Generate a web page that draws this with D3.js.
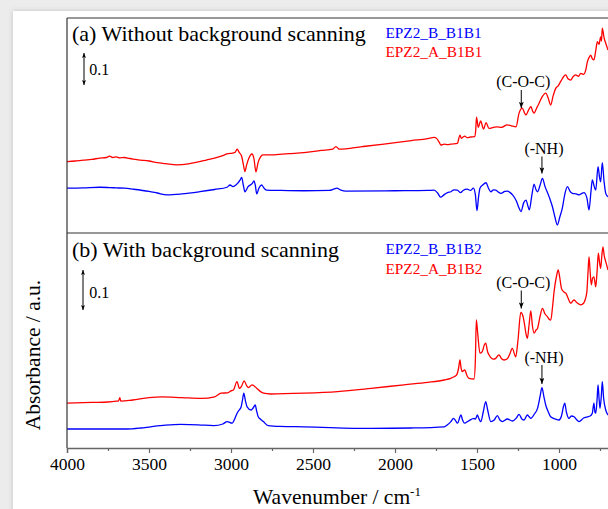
<!DOCTYPE html>
<html>
<head>
<meta charset="utf-8">
<script src="https://cdn.jsdelivr.net/npm/d3@7"></script>
<style>
  html, body { margin: 0; padding: 0; background: #ececec; }
  svg { display: block; }
  text { font-family: "Liberation Serif", "Times New Roman", serif; fill: #000; }
</style>
</head>
<body>
<svg id="chart" width="608" height="509"></svg>
<script>
// FTIR spectra, [wavenumber (cm-1), absorbance offset]
const epz2B_B1B1 = [[4000,0.140],[3900,0.141],[3800,0.143],[3740,0.142],[3700,0.141],[3650,0.140],[3598,0.137],[3500,0.130],[3450,0.125],[3390,0.119],[3300,0.122],[3190,0.129],[3100,0.136],[3024,0.143],[3006,0.150],[2988,0.145],[2960,0.155],[2945,0.165],[2935,0.174],[2925,0.150],[2915,0.129],[2896,0.145],[2870,0.155],[2860,0.163],[2852,0.150],[2843,0.122],[2830,0.140],[2814,0.150],[2798,0.140],[2783,0.134],[2700,0.133],[2555,0.132],[2400,0.133],[2370,0.138],[2355,0.140],[2330,0.134],[2300,0.131],[2000,0.132],[1800,0.133],[1762,0.134],[1740,0.125],[1722,0.112],[1700,0.120],[1680,0.126],[1659,0.129],[1640,0.135],[1620,0.134],[1600,0.126],[1585,0.133],[1560,0.137],[1540,0.133],[1522,0.140],[1510,0.120],[1500,0.070],[1490,0.115],[1482,0.140],[1465,0.150],[1445,0.157],[1430,0.140],[1415,0.129],[1400,0.135],[1385,0.134],[1370,0.128],[1354,0.124],[1330,0.130],[1313,0.131],[1300,0.127],[1283,0.119],[1260,0.100],[1245,0.080],[1232,0.067],[1215,0.095],[1201,0.103],[1190,0.085],[1181,0.072],[1165,0.120],[1152,0.153],[1140,0.135],[1131,0.129],[1115,0.150],[1101,0.171],[1085,0.145],[1060,0.113],[1040,0.082],[1025,0.050],[1010,0.025],[995,0.050],[980,0.077],[965,0.120],[949,0.145],[930,0.128],[918,0.124],[895,0.122],[878,0.119],[860,0.124],[848,0.126],[830,0.110],[817,0.072],[805,0.130],[797,0.166],[785,0.145],[776,0.134],[762,0.207],[753,0.175],[746,0.160],[736,0.220],[725,0.160],[715,0.124],[701,0.113]];

const epz2A_B1B1 = [[4000,0.223],[3950,0.225],[3900,0.228],[3850,0.230],[3800,0.234],[3760,0.236],[3740,0.240],[3720,0.236],[3700,0.238],[3680,0.235],[3650,0.236],[3620,0.233],[3598,0.231],[3550,0.228],[3500,0.225],[3450,0.220],[3400,0.217],[3330,0.213],[3260,0.216],[3200,0.222],[3150,0.228],[3100,0.234],[3050,0.242],[3024,0.247],[2990,0.250],[2975,0.252],[2963,0.262],[2950,0.252],[2935,0.240],[2925,0.215],[2915,0.192],[2905,0.212],[2890,0.235],[2872,0.247],[2860,0.232],[2848,0.191],[2835,0.220],[2820,0.238],[2805,0.244],[2750,0.244],[2650,0.248],[2555,0.251],[2450,0.258],[2380,0.262],[2360,0.270],[2340,0.262],[2200,0.270],[2067,0.278],[1900,0.289],[1800,0.295],[1762,0.299],[1745,0.295],[1730,0.283],[1720,0.275],[1700,0.278],[1680,0.276],[1659,0.278],[1620,0.280],[1604,0.306],[1595,0.296],[1585,0.300],[1575,0.303],[1560,0.298],[1540,0.300],[1515,0.301],[1508,0.320],[1503,0.362],[1492,0.330],[1478,0.350],[1460,0.325],[1445,0.345],[1427,0.327],[1400,0.330],[1378,0.332],[1350,0.330],[1317,0.338],[1290,0.335],[1262,0.332],[1244,0.374],[1224,0.390],[1210,0.375],[1201,0.369],[1185,0.385],[1171,0.395],[1160,0.380],[1152,0.375],[1135,0.392],[1122,0.405],[1102,0.426],[1081,0.437],[1065,0.420],[1051,0.400],[1035,0.430],[1020,0.452],[1005,0.460],[990,0.473],[970,0.490],[959,0.494],[945,0.482],[929,0.478],[915,0.488],[899,0.494],[880,0.490],[868,0.499],[850,0.496],[837,0.509],[827,0.535],[815,0.550],[807,0.556],[797,0.545],[787,0.541],[776,0.570],[766,0.598],[756,0.590],[746,0.613],[741,0.600],[736,0.640],[725,0.610],[715,0.593],[701,0.572]];

const epz2B_B1B2 = [[4000,0.0475],[3800,0.0475],[3635,0.0475],[3550,0.050],[3490,0.053],[3400,0.057],[3307,0.059],[3200,0.058],[3105,0.056],[3050,0.060],[3024,0.066],[2993,0.062],[2975,0.075],[2963,0.087],[2950,0.095],[2938,0.103],[2930,0.120],[2922,0.137],[2912,0.118],[2902,0.103],[2877,0.095],[2865,0.100],[2852,0.1075],[2845,0.095],[2834,0.078],[2820,0.072],[2803,0.066],[2773,0.056],[2700,0.054],[2555,0.053],[2146,0.049],[1900,0.050],[1700,0.053],[1680,0.058],[1659,0.066],[1643,0.074],[1630,0.068],[1619,0.062],[1598,0.0825],[1588,0.070],[1577,0.062],[1550,0.068],[1518,0.074],[1510,0.072],[1498,0.0825],[1490,0.075],[1477,0.066],[1462,0.090],[1447,0.116],[1435,0.095],[1416,0.066],[1395,0.070],[1376,0.081],[1360,0.070],[1345,0.066],[1315,0.0725],[1284,0.0675],[1260,0.075],[1244,0.084],[1225,0.072],[1213,0.070],[1193,0.0825],[1182,0.078],[1172,0.074],[1150,0.085],[1131,0.099],[1115,0.130],[1104,0.151],[1092,0.128],[1081,0.1075],[1065,0.090],[1051,0.078],[1020,0.072],[1000,0.070],[985,0.080],[972,0.105],[965,0.112],[955,0.090],[939,0.074],[925,0.080],[908,0.078],[895,0.072],[878,0.066],[850,0.075],[827,0.078],[810,0.080],[797,0.087],[787,0.112],[781,0.090],[776,0.087],[768,0.120],[762,0.1575],[755,0.120],[750,0.099],[742,0.130],[736,0.166],[728,0.125],[715,0.095],[701,0.0825]];

const epz2A_B1B2 = [[4000,0.112],[3850,0.114],[3750,0.115],[3700,0.117],[3685,0.118],[3678,0.126],[3672,0.117],[3600,0.120],[3500,0.126],[3420,0.128],[3300,0.126],[3180,0.124],[3100,0.128],[3060,0.137],[3020,0.138],[3000,0.143],[2985,0.145],[2964,0.166],[2948,0.149],[2935,0.155],[2920,0.168],[2905,0.156],[2893,0.151],[2872,0.158],[2842,0.149],[2820,0.141],[2801,0.137],[2760,0.135],[2555,0.137],[2350,0.141],[2146,0.149],[1945,0.158],[1800,0.164],[1700,0.170],[1660,0.174],[1640,0.178],[1625,0.182],[1612,0.200],[1604,0.220],[1597,0.200],[1590,0.191],[1575,0.195],[1560,0.180],[1549,0.174],[1518,0.1725],[1510,0.220],[1504,0.320],[1495,0.283],[1482,0.237],[1468,0.241],[1455,0.258],[1447,0.262],[1435,0.240],[1427,0.233],[1400,0.222],[1386,0.224],[1366,0.233],[1350,0.223],[1335,0.220],[1315,0.223],[1300,0.235],[1285,0.249],[1264,0.228],[1250,0.270],[1233,0.339],[1220,0.330],[1213,0.316],[1200,0.283],[1193,0.274],[1182,0.310],[1172,0.343],[1162,0.305],[1152,0.287],[1140,0.295],[1131,0.299],[1115,0.330],[1101,0.349],[1085,0.335],[1070,0.328],[1060,0.322],[1050,0.320],[1040,0.350],[1030,0.391],[1015,0.430],[1005,0.445],[995,0.425],[985,0.399],[970,0.390],[958,0.387],[945,0.375],[928,0.362],[915,0.368],[908,0.370],[890,0.363],[867,0.358],[850,0.362],[841,0.370],[830,0.391],[823,0.440],[817,0.478],[810,0.440],[803,0.408],[795,0.425],[787,0.428],[776,0.403],[768,0.440],[760,0.487],[753,0.465],[746,0.449],[739,0.480],[732,0.503],[724,0.480],[715,0.466],[701,0.445]];

const xTickValues = [4000, 3500, 3000, 2500, 2000, 1500, 1000];
const xMinorValues = [3750, 3250, 2750, 2250, 1750, 1250, 750];

const panelTitles = ["(a) Without background scanning", "(b) With background scanning"];
const legendLabels = [["EPZ2_B_B1B1", "EPZ2_A_B1B1"], ["EPZ2_B_B1B2", "EPZ2_A_B1B2"]];
const bandLabels = ["(C-O-C)", "(-NH)"];
const bandPositions = [1230, 1104];
const scaleBarValue = 0.1;

const colors = { B: "#0000ff", A: "#ff0000" };

const svg = d3.select("#chart");

// page background and white sheet with a soft edge shadow
const defs = svg.append("defs");
const shadow = defs.append("filter").attr("id", "sheetShadow")
  .attr("x", "-5%").attr("y", "-5%").attr("width", "110%").attr("height", "110%");
shadow.append("feDropShadow").attr("dx", 0).attr("dy", 0)
  .attr("stdDeviation", 2.5).attr("flood-color", "#000").attr("flood-opacity", 0.18);

svg.append("rect").attr("width", 608).attr("height", 509).attr("fill", "#ececec");
svg.append("rect").attr("x", 13).attr("y", 11).attr("width", 640).attr("height", 520)
  .attr("fill", "#fff").attr("filter", "url(#sheetShadow)");

// arrow heads (drawn along +x, oriented by the line direction)
function arrowMarker(id, len, wid) {
  defs.append("marker").attr("id", id)
    .attr("viewBox", "0 0 10 8").attr("refX", 10).attr("refY", 4)
    .attr("markerWidth", len).attr("markerHeight", wid).attr("markerUnits", "userSpaceOnUse")
    .attr("orient", "auto-start-reverse")
    .append("path").attr("d", "M0,0 L10,4 L0,8 L2.5,4 Z").attr("fill", "#000");
}
arrowMarker("headDown", 7, 5);
arrowMarker("headSmall", 5.5, 4);

const plotLeft = 67, plotTop = 18, plotMid = 233, plotBottom = 448;

const x = d3.scaleLinear().domain([4000, 400]).range([plotLeft, plotLeft + 3600 * 0.164]);

const panels = [
  { y: d3.scaleLinear().domain([0, 0.672]).range([plotMid, plotTop]), series: [epz2B_B1B1, epz2A_B1B1],
    y0: plotTop, y1: plotMid, title: panelTitles[0], legend: legendLabels[0],
    titleY: 41, legendY: [38.3, 57.3], barX: 84, barTop: 53, labelY: [87.3, 154], arrowY: [[90, 108], [156.5, 173.5]] },
  { y: d3.scaleLinear().domain([0, 0.5375]).range([plotBottom, plotMid]), series: [epz2B_B1B2, epz2A_B1B2],
    y0: plotMid, y1: plotBottom, title: panelTitles[1], legend: legendLabels[1],
    titleY: 256.5, legendY: [254.3, 274.3], barX: 83, barTop: 270, labelY: [288.3, 363.3], arrowY: [[290.5, 308.5], [365, 384]] }
];

const line = (yScale) => d3.line()
  .x(d => x(d[0])).y(d => yScale(d[1]))
  .curve(d3.curveMonotoneX);

panels.forEach((p, i) => {
  const clipId = "clip" + i;
  defs.append("clipPath").attr("id", clipId)
    .append("rect").attr("x", plotLeft).attr("y", p.y0).attr("width", 700).attr("height", p.y1 - p.y0);

  const g = svg.append("g").attr("clip-path", `url(#${clipId})`);
  g.append("path").datum(p.series[0]).attr("d", line(p.y))
    .attr("fill", "none").attr("stroke", colors.B).attr("stroke-width", 1.3).attr("stroke-linejoin", "round");
  g.append("path").datum(p.series[1]).attr("d", line(p.y))
    .attr("fill", "none").attr("stroke", colors.A).attr("stroke-width", 1.3).attr("stroke-linejoin", "round");

  // panel title
  svg.append("text").attr("x", 72).attr("y", p.titleY)
    .attr("font-size", "22px").text(p.title);

  // legend
  svg.append("text").attr("x", 385.5).attr("y", p.legendY[0])
    .attr("font-size", "15.3px").style("fill", colors.B).text(p.legend[0]);
  svg.append("text").attr("x", 385.5).attr("y", p.legendY[1])
    .attr("font-size", "15.3px").style("fill", colors.A).text(p.legend[1]);

  // 0.1 absorbance scale bar
  const barLen = p.y(0) - p.y(scaleBarValue);
  svg.append("line").attr("x1", p.barX).attr("x2", p.barX)
    .attr("y1", p.barTop).attr("y2", p.barTop + barLen)
    .attr("stroke", "#000").attr("stroke-width", 1)
    .attr("marker-start", "url(#headSmall)").attr("marker-end", "url(#headSmall)");
  svg.append("text").attr("x", 89.3).attr("y", p.barTop + barLen * 0.7)
    .attr("font-size", "16px").text(scaleBarValue);

  // band assignments
  bandLabels.forEach((lab, j) => {
    const bx = x(bandPositions[j]);
    svg.append("text").attr("x", bx + 2).attr("y", p.labelY[j])
      .attr("text-anchor", "middle").attr("font-size", "16px").text(lab);
    svg.append("line").attr("x1", bx).attr("x2", bx)
      .attr("y1", p.arrowY[j][0]).attr("y2", p.arrowY[j][1])
      .attr("stroke", "#000").attr("stroke-width", 1)
      .attr("marker-end", "url(#headDown)");
  });
});

// frame: left edge, top edge and panel divider
svg.append("line").attr("x1", plotLeft).attr("x2", 620).attr("y1", plotTop).attr("y2", plotTop)
  .attr("stroke", "#333").attr("stroke-width", 1.2);
svg.append("line").attr("x1", plotLeft).attr("x2", 620).attr("y1", plotMid).attr("y2", plotMid)
  .attr("stroke", "#333").attr("stroke-width", 1.2);
svg.append("line").attr("x1", plotLeft).attr("x2", plotLeft).attr("y1", plotTop).attr("y2", plotBottom)
  .attr("stroke", "#333").attr("stroke-width", 1.2);

// bottom wavenumber axis
const xAxis = d3.axisBottom(x).tickValues(xTickValues).tickSize(5).tickPadding(4)
  .tickFormat(d3.format("d"));
const axG = svg.append("g").attr("transform", `translate(0,${plotBottom})`).call(xAxis);
axG.select(".domain").attr("stroke", "#666").attr("stroke-width", 1.4);
axG.selectAll(".tick line").attr("stroke", "#666").attr("stroke-width", 1.2);
axG.selectAll(".tick text").attr("font-family", "Liberation Serif").attr("font-size", "17.5px")
  .attr("fill", "#000").attr("dy", null).attr("y", 22);

const minor = d3.axisBottom(x).tickValues(xMinorValues).tickSize(3).tickFormat("");
const minG = svg.append("g").attr("transform", `translate(0,${plotBottom})`).call(minor);
minG.select(".domain").remove();
minG.selectAll(".tick line").attr("stroke", "#666").attr("stroke-width", 1.2);

// axis titles
const xt = svg.append("text").attr("x", 337).attr("y", 504)
  .attr("text-anchor", "middle").attr("font-size", "21.5px");
xt.append("tspan").text("Wavenumber / cm");
xt.append("tspan").attr("dy", -8).attr("font-size", "13px").text("-1");

svg.append("text").attr("transform", "translate(40,355) rotate(-90)")
  .attr("text-anchor", "middle").attr("font-size", "21.5px").text("Absorbance / a.u.");
</script>
</body>
</html>
